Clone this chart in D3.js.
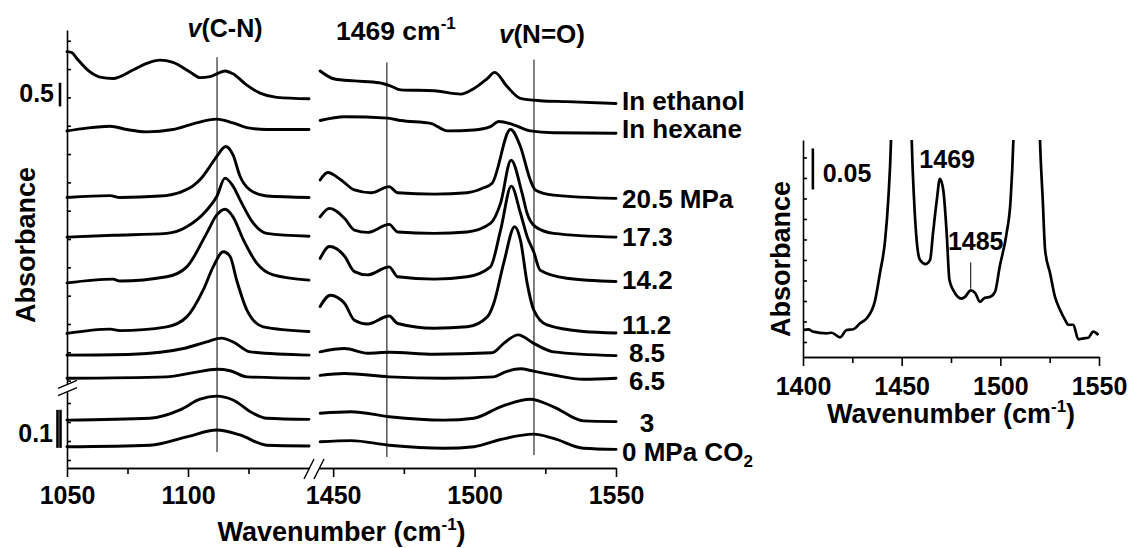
<!DOCTYPE html>
<html>
<head>
<meta charset="utf-8">
<script src="https://cdn.jsdelivr.net/npm/d3@7/dist/d3.min.js"></script>
<style>
  body { margin: 0; background: #fff; }
  svg { display: block; }
  text { font-family: "Liberation Sans", Arial, sans-serif; font-weight: bold; fill: #000; }
</style>
</head>
<body>
<svg id="chart" width="1133" height="548"></svg>
<script>
// ---- Spectra: [wavenumber (cm-1), absorbance], C-N window (1050-1150) and N=O window (1445-1550)
const seriesNames = ["In ethanol", "In hexane", "20.5 MPa", "17.3", "14.2", "11.2", "8.5", "6.5", "3", "0 MPa CO2"];

const ethanolCN = [[1050,6.97],[1052,6.95],[1054,6.83],[1059.5,6.54],[1063.6,6.43],[1069,6.40],[1077.3,6.58],[1082.9,6.72],[1088.4,6.79],[1093.8,6.74],[1100.8,6.54],[1105,6.42],[1109.1,6.44],[1111.9,6.50],[1115.3,6.56],[1118.6,6.50],[1124.3,6.26],[1129.8,6.09],[1136.7,6.00],[1150,5.97]];
const ethanolNO = [[1445.4,6.56],[1450.5,6.39],[1457.5,6.35],[1466.3,6.31],[1470.4,6.24],[1473.9,6.16],[1485.7,6.14],[1495.1,6.07],[1499.8,6.19],[1504.5,6.40],[1507.1,6.53],[1511.5,6.23],[1516.2,5.98],[1523.2,5.93],[1532.6,5.91],[1550,5.87]];

const hexaneCN = [[1050,5.29],[1058.1,5.35],[1067.8,5.39],[1074.7,5.32],[1082.9,5.27],[1093.8,5.32],[1102.1,5.44],[1111.9,5.54],[1118.6,5.46],[1124.3,5.36],[1132.5,5.32],[1150,5.32]];
const hexaneNO = [[1445.4,5.51],[1454,5.59],[1469.3,5.56],[1473.9,5.51],[1484.5,5.45],[1490.4,5.29],[1499.8,5.31],[1505.6,5.38],[1508.6,5.49],[1513.8,5.42],[1519.7,5.29],[1527.9,5.25],[1550,5.24]];

const p205CN = [[1050,3.88],[1067.8,3.92],[1071.9,3.88],[1088.4,3.91],[1096.7,3.99],[1102.2,4.13],[1105.2,4.27],[1108.3,4.48],[1111.9,4.75],[1115.6,4.96],[1118.6,4.78],[1121.5,4.33],[1125.6,4.04],[1132.5,3.91],[1150,3.88]];
const p205NO = [[1445.4,4.25],[1448.1,4.41],[1452.8,4.25],[1457.5,4.04],[1463.4,3.98],[1469.8,4.11],[1472.8,3.98],[1485.7,3.95],[1497.4,3.98],[1503,4.08],[1506.2,4.18],[1512.7,5.32],[1516.2,4.96],[1519.7,4.25],[1521.5,4.04],[1527.9,3.93],[1550,3.86]];

const p173CN = [[1050,3.04],[1069,3.08],[1091.2,3.12],[1099.5,3.26],[1107.7,3.61],[1111.9,3.90],[1115.3,4.29],[1118.6,4.12],[1121.5,3.83],[1126.9,3.34],[1132.5,3.12],[1150,3.06]];
const p173NO = [[1445.4,3.47],[1448.7,3.65],[1454,3.44],[1457.5,3.19],[1462.2,3.14],[1469.8,3.31],[1472.8,3.15],[1485.7,3.12],[1497.4,3.15],[1505.6,3.33],[1509.2,3.76],[1512.9,4.67],[1516.8,3.97],[1518.6,3.54],[1521.5,3.26],[1527.9,3.12],[1550,3.04]];

const p142CN = [[1050,2.07],[1069,2.15],[1071.9,2.11],[1091.2,2.20],[1099.5,2.41],[1107.7,3.12],[1111.9,3.51],[1115.3,3.63],[1118.6,3.47],[1122.9,2.98],[1128.4,2.49],[1135.2,2.24],[1150,2.13]];
const p142NO = [[1445.4,2.59],[1448.7,2.84],[1454,2.64],[1457.5,2.31],[1462.2,2.24],[1469.8,2.41],[1472.8,2.20],[1485.7,2.15],[1497.4,2.20],[1505.6,2.41],[1509.2,3.19],[1513,4.12],[1516.2,3.55],[1518.6,3.05],[1520.9,2.73],[1523.2,2.34],[1532.6,2.17],[1550,2.10]];

const p112CN = [[1050,1.00],[1067.8,1.09],[1071.9,1.06],[1091.2,1.14],[1099.5,1.35],[1106.3,1.92],[1110.4,2.41],[1114.6,2.73],[1117.4,2.63],[1120.1,2.13],[1124.3,1.50],[1131.1,1.14],[1150,1.04]];
const p112NO = [[1445.4,1.57],[1449,1.81],[1454,1.64],[1457.5,1.28],[1462.2,1.20],[1469.8,1.37],[1472.8,1.21],[1485.7,1.11],[1497.4,1.14],[1504.5,1.35],[1506.8,1.64],[1510.3,2.49],[1514.2,3.26],[1516.2,2.98],[1518.6,2.06],[1520.9,1.50],[1525.6,1.18],[1538.5,1.04],[1550,1.01]];

const p85CN = [[1050,0.54],[1077.3,0.56],[1098.1,0.68],[1107.7,0.82],[1113.9,0.90],[1118.6,0.82],[1125.6,0.61],[1150,0.54]];
const p85NO = [[1445.4,0.61],[1454,0.68],[1462.2,0.58],[1469.8,0.60],[1485.7,0.56],[1506.2,0.59],[1510.3,0.79],[1515.4,0.97],[1520.9,0.79],[1527.9,0.61],[1550,0.53]];

const p65CN = [[1050,0.05],[1091.2,0.08],[1102.2,0.17],[1111.9,0.24],[1117.4,0.21],[1124.3,0.08],[1150,0.05]];
const p65NO = [[1445.4,0.11],[1454,0.15],[1469.8,0.08],[1489.2,0.05],[1506.8,0.08],[1510.3,0.17],[1516.2,0.25],[1520.9,0.20],[1527.9,0.12],[1538.5,0.03],[1550,0.05]];

// low-pressure spectra sit on the expanded lower scale
const p3CN = [[1050,0.105],[1084.3,0.110],[1096.7,0.132],[1105,0.160],[1111.9,0.168],[1118.6,0.158],[1126.9,0.123],[1132.5,0.110],[1150,0.107]];
const p3NO = [[1445.4,0.123],[1456.3,0.127],[1469.8,0.114],[1489.2,0.105],[1499.8,0.110],[1509.2,0.140],[1519.7,0.160],[1527.9,0.140],[1538.5,0.103],[1550,0.101]];

const p0CN = [[1050,0.035],[1084.3,0.039],[1099.5,0.061],[1111.9,0.079],[1121.5,0.066],[1132.5,0.039],[1150,0.037]];
const p0NO = [[1445.4,0.048],[1456.3,0.051],[1469.8,0.039],[1489.2,0.031],[1499.8,0.035],[1509.2,0.054],[1520.9,0.068],[1527.9,0.057],[1538.5,0.031],[1550,0.028]];

// marker lines: nu(C-N), 1469 cm-1, nu(N=O)
const markerWavenumbers = [1112, 1469, 1521];

// axis ticks
const cnMajorTicks = [1050, 1100];
const cnMinorTicks = [1075, 1125];
const noMajorTicks = [1450, 1500, 1550];
const noMinorTicks = [1475, 1525];

// ---- Inset: expanded 1400-1550 cm-1 region
const insetWavenumber = [1400.2,1402.7,1405.1,1412,1414.5,1418.8,1422.1,1425.5,1428.9,1432.3,1436.5,1439,1441.6,1443.2,1444.6,1445.4,1447,1453,1454.4,1455.1,1456.3,1457.6,1459.3,1462.2,1464.4,1465.9,1467.8,1469.4,1471.1,1472.8,1474.2,1476.2,1480.4,1482.1,1485,1487.2,1489.7,1492.2,1494.8,1497.3,1499.7,1503.2,1505.2,1506.6,1507.5,1513,1519.2,1520.1,1521.5,1522.7,1525.2,1527.7,1530.3,1532.8,1534.5,1537,1539.5,1542.1,1544.6,1547.1,1549.7];
const insetAbsorbance = [0.0146,0.0155,0.0126,0.0106,0.0113,0.0057,0.0146,0.0155,0.0228,0.0289,0.0504,0.0841,0.124,0.173,0.246,0.33,0.6,0.6,0.33,0.246,0.173,0.124,0.100,0.095,0.100,0.133,0.173,0.199,0.185,0.133,0.076,0.063,0.053,0.055,0.063,0.060,0.049,0.054,0.055,0.061,0.092,0.133,0.173,0.246,0.33,1.2,0.33,0.246,0.173,0.112,0.084,0.055,0.039,0.027,0.021,0.021,0.0033,0.0045,0.0052,0.0126,0.0085];
const insetMajorTicks = [1400, 1450, 1500, 1550];
const insetMinorTicks = [1425, 1475, 1525];

// ---------------------------------------------------------------
const svg = d3.select("#chart");
const FONT = "'Liberation Sans', Arial, sans-serif";

const xCN = d3.scaleLinear().domain([1050, 1150]).range([67, 309]);
const xNO = d3.scaleLinear().domain([1445, 1550]).range([319, 616]);
const yUpper = d3.scaleLinear().domain([-0.08, 7.43]).range([384.4, 29.9]);
const yLower = d3.scaleLinear().domain([-0.021, 0.18]).range([468, 391.6]);

// labelShift: small vertical nudge of each trace label (px)
const series = [
  { name: seriesNames[0], cn: ethanolCN, no: ethanolNO, y: yUpper, anchor: "start",  labelShift: -3 },
  { name: seriesNames[1], cn: hexaneCN,  no: hexaneNO,  y: yUpper, anchor: "start",  labelShift: -4 },
  { name: seriesNames[2], cn: p205CN,    no: p205NO,    y: yUpper, anchor: "start",  labelShift: 0 },
  { name: seriesNames[3], cn: p173CN,    no: p173NO,    y: yUpper, anchor: "start",  labelShift: 0 },
  { name: seriesNames[4], cn: p142CN,    no: p142NO,    y: yUpper, anchor: "start",  labelShift: -2 },
  { name: seriesNames[5], cn: p112CN,    no: p112NO,    y: yUpper, anchor: "start",  labelShift: -8 },
  { name: seriesNames[6], cn: p85CN,     no: p85NO,     y: yUpper, anchor: "middle", labelShift: -3 },
  { name: seriesNames[7], cn: p65CN,     no: p65NO,     y: yUpper, anchor: "middle", labelShift: 3 },
  { name: seriesNames[8], cn: p3CN,      no: p3NO,      y: yLower, anchor: "middle", labelShift: 1 },
  { name: seriesNames[9], cn: p0CN,      no: p0NO,      y: yLower, anchor: "start",  labelShift: 3 }
];

const axisStroke = 1.6;
const yAxisBase = 468;

// marker lines behind the spectra
const markerG = svg.append("g").attr("stroke", "#000").attr("stroke-width", 1);
markerG.append("line")
  .attr("x1", xCN(markerWavenumbers[0])).attr("x2", xCN(markerWavenumbers[0]))
  .attr("y1", yUpper(6.85)).attr("y2", yLower(0.021));
markerG.append("line")
  .attr("x1", xNO(markerWavenumbers[1])).attr("x2", xNO(markerWavenumbers[1]))
  .attr("y1", yUpper(6.74)).attr("y2", yLower(0.008));
markerG.append("line")
  .attr("x1", xNO(markerWavenumbers[2])).attr("x2", xNO(markerWavenumbers[2]))
  .attr("y1", yUpper(6.80)).attr("y2", yLower(0.013));

// spectra
const specG = svg.append("g").attr("fill", "none").attr("stroke", "#000")
  .attr("stroke-width", 2.9).attr("stroke-linejoin", "round").attr("stroke-linecap", "round");
series.forEach(s => {
  const lineCN = d3.line().x(d => xCN(d[0])).y(d => s.y(d[1])).curve(d3.curveMonotoneX);
  const lineNO = d3.line().x(d => xNO(d[0])).y(d => s.y(d[1])).curve(d3.curveMonotoneX);
  specG.append("path").attr("d", lineCN(s.cn));
  specG.append("path").attr("d", lineNO(s.no));
});

// series labels at the right end of each trace
const labelG = svg.append("g").attr("font-size", 26);
series.forEach(s => {
  const last = s.no[s.no.length - 1];
  const t = labelG.append("text")
    .attr("x", s.anchor === "start" ? xNO(1550) + 6 : xNO(1550) + 31)
    .attr("y", s.y(last[1]) + s.labelShift)
    .attr("dy", "0.35em")
    .attr("text-anchor", s.anchor);
  if (s.name === "0 MPa CO2") {
    t.append("tspan").text("0 MPa CO");
    t.append("tspan").attr("font-size", 17).attr("dy", 6).text("2");
  } else {
    t.text(s.name);
  }
});

// ---- axes of the main panel
function styleAxis(g, fontSize) {
  g.attr("font-family", FONT).attr("font-size", fontSize).attr("font-weight", "bold");
  g.selectAll("path.domain").attr("stroke-width", axisStroke);
  g.selectAll(".tick line").attr("stroke-width", axisStroke);
  g.selectAll(".tick text").attr("fill", "#000");
}

// left axis, upper and lower sections (ticks point inward)
svg.append("g").attr("transform", `translate(${xCN(1050)},0)`)
  .call(d3.axisRight(yUpper).tickValues(d3.range(0, 7.3, 0.6)).tickSize(4).tickSizeOuter(0).tickFormat(""))
  .call(g => styleAxis(g, 10));
svg.append("g").attr("transform", `translate(${xCN(1050)},0)`)
  .call(d3.axisRight(yLower).tickValues([0, 0.05, 0.1, 0.15]).tickSize(4).tickSizeOuter(0).tickFormat(""))
  .call(g => styleAxis(g, 10));

// bottom axis, two windows
svg.append("g").attr("transform", `translate(0,${yAxisBase})`)
  .call(d3.axisBottom(xCN).tickValues(cnMajorTicks).tickSize(9).tickSizeOuter(0).tickPadding(9).tickFormat(d3.format("d")))
  .call(g => styleAxis(g, 25));
svg.append("g").attr("transform", `translate(0,${yAxisBase})`)
  .call(d3.axisBottom(xCN).tickValues(cnMinorTicks).tickSize(6).tickSizeOuter(0).tickFormat(""))
  .call(g => styleAxis(g, 25));
svg.append("g").attr("transform", `translate(0,${yAxisBase})`)
  .call(d3.axisBottom(xNO).tickValues(noMajorTicks).tickSize(9).tickSizeOuter(0).tickPadding(9).tickFormat(d3.format("d")))
  .call(g => styleAxis(g, 25));
svg.append("g").attr("transform", `translate(0,${yAxisBase})`)
  .call(d3.axisBottom(xNO).tickValues(noMinorTicks).tickSize(6).tickSizeOuter(0).tickFormat(""))
  .call(g => styleAxis(g, 25));

// axis break marks
const breakG = svg.append("g").attr("stroke", "#000").attr("stroke-width", 1.4).attr("fill", "none");
[xCN(1150), xNO(1445)].forEach(cx => {
  breakG.append("line").attr("x1", cx - 5).attr("y1", yAxisBase + 11).attr("x2", cx + 5).attr("y2", yAxisBase - 9);
});
[yUpper(-0.08), yLower(0.18)].forEach(cy => {
  breakG.append("line").attr("x1", xCN(1050) - 9).attr("y1", cy + 4).attr("x2", xCN(1050) + 10).attr("y2", cy - 4);
});

// scale bars
const barG = svg.append("g").attr("stroke", "#000").attr("stroke-width", 2.6);
barG.append("line").attr("x1", xCN(1050) - 7).attr("x2", xCN(1050) - 7)
  .attr("y1", yUpper(5.81)).attr("y2", yUpper(6.31));
barG.append("line").attr("x1", xCN(1050) - 9.5).attr("x2", xCN(1050) - 9.5)
  .attr("y1", yLower(0.032)).attr("y2", yLower(0.132));
barG.append("line").attr("x1", xCN(1050) - 6.5).attr("x2", xCN(1050) - 6.5)
  .attr("y1", yLower(0.032)).attr("y2", yLower(0.132));
svg.append("text").attr("x", 54).attr("y", 102).attr("text-anchor", "end").attr("font-size", 25).text("0.5");
svg.append("text").attr("x", 53).attr("y", 442).attr("text-anchor", "end").attr("font-size", 25).text("0.1");

// peak annotations
const nuCN = svg.append("text").attr("x", xCN(markerWavenumbers[0]) + 8).attr("y", 37)
  .attr("text-anchor", "middle").attr("font-size", 25);
nuCN.append("tspan").attr("font-style", "italic").text("v");
nuCN.append("tspan").text("(C-N)");

const t1469 = svg.append("text").attr("x", xNO(markerWavenumbers[1]) + 9).attr("y", 40)
  .attr("text-anchor", "middle").attr("font-size", 26.5);
t1469.append("tspan").text("1469 cm");
t1469.append("tspan").attr("font-size", 17).attr("dy", -11).text("-1");

const nuNO = svg.append("text").attr("x", xNO(markerWavenumbers[2]) + 8).attr("y", 43)
  .attr("text-anchor", "middle").attr("font-size", 26);
nuNO.append("tspan").attr("font-style", "italic").text("v");
nuNO.append("tspan").text("(N=O)");

// axis titles
function wavenumberTitle(x, y) {
  const t = svg.append("text").attr("x", x).attr("y", y).attr("text-anchor", "middle").attr("font-size", 27);
  t.append("tspan").text("Wavenumber (cm");
  t.append("tspan").attr("font-size", 17).attr("dy", -11).text("-1");
  t.append("tspan").attr("dy", 11).text(")");
}
wavenumberTitle((xCN(1050) + xNO(1550)) / 2, 541);
svg.append("text").attr("transform", "translate(35,245) rotate(-90)")
  .attr("text-anchor", "middle").attr("font-size", 27).text("Absorbance");

// ---- Inset panel
const xIn = d3.scaleLinear().domain([1400, 1550]).range([803, 1099]);
const yIn = d3.scaleLinear().domain([-0.0183, 0.2463]).range([357, 140]);

svg.append("defs").append("clipPath").attr("id", "insetClip")
  .append("rect").attr("x", 803).attr("y", 140).attr("width", 300).attr("height", 217);

const insetPoints = insetWavenumber.map((w, i) => [w, insetAbsorbance[i]]);
svg.append("path")
  .attr("clip-path", "url(#insetClip)")
  .attr("fill", "none").attr("stroke", "#000").attr("stroke-width", 2.7).attr("stroke-linejoin", "round")
  .attr("d", d3.line().x(d => xIn(d[0])).y(d => yIn(d[1])).curve(d3.curveMonotoneX)(insetPoints));

svg.append("g").attr("transform", `translate(${xIn(1400)},0)`)
  .call(d3.axisRight(yIn).tickValues(d3.range(0, 0.226, 0.025)).tickSize(4).tickSizeOuter(0).tickFormat(""))
  .call(g => styleAxis(g, 10));
svg.append("g").attr("transform", `translate(0,357)`)
  .call(d3.axisBottom(xIn).tickValues(insetMajorTicks).tickSize(9).tickSizeOuter(0).tickPadding(11).tickFormat(d3.format("d")))
  .call(g => styleAxis(g, 25));
svg.append("g").attr("transform", `translate(0,357)`)
  .call(d3.axisBottom(xIn).tickValues(insetMinorTicks).tickSize(6).tickSizeOuter(0).tickFormat(""))
  .call(g => styleAxis(g, 25));

// inset scale bar and peak labels
svg.append("line").attr("stroke", "#000").attr("stroke-width", 2.6)
  .attr("x1", xIn(1405)).attr("x2", xIn(1405)).attr("y1", yIn(0.186)).attr("y2", yIn(0.236));
svg.append("text").attr("x", xIn(1410)).attr("y", 182).attr("font-size", 25).text("0.05");
svg.append("text").attr("x", xIn(1469) + 8).attr("y", 168).attr("text-anchor", "middle").attr("font-size", 25).text("1469");
svg.append("text").attr("x", xIn(1485) + 5).attr("y", 250).attr("text-anchor", "middle").attr("font-size", 25).text("1485");
svg.append("line").attr("stroke", "#000").attr("stroke-width", 1)
  .attr("x1", xIn(1485)).attr("x2", xIn(1485)).attr("y1", yIn(0.097)).attr("y2", yIn(0.065));

// inset axis titles
wavenumberTitle((xIn(1400) + xIn(1550)) / 2, 423);
svg.append("text").attr("transform", "translate(790,259) rotate(-90)")
  .attr("text-anchor", "middle").attr("font-size", 27).text("Absorbance");
</script>
</body>
</html>
